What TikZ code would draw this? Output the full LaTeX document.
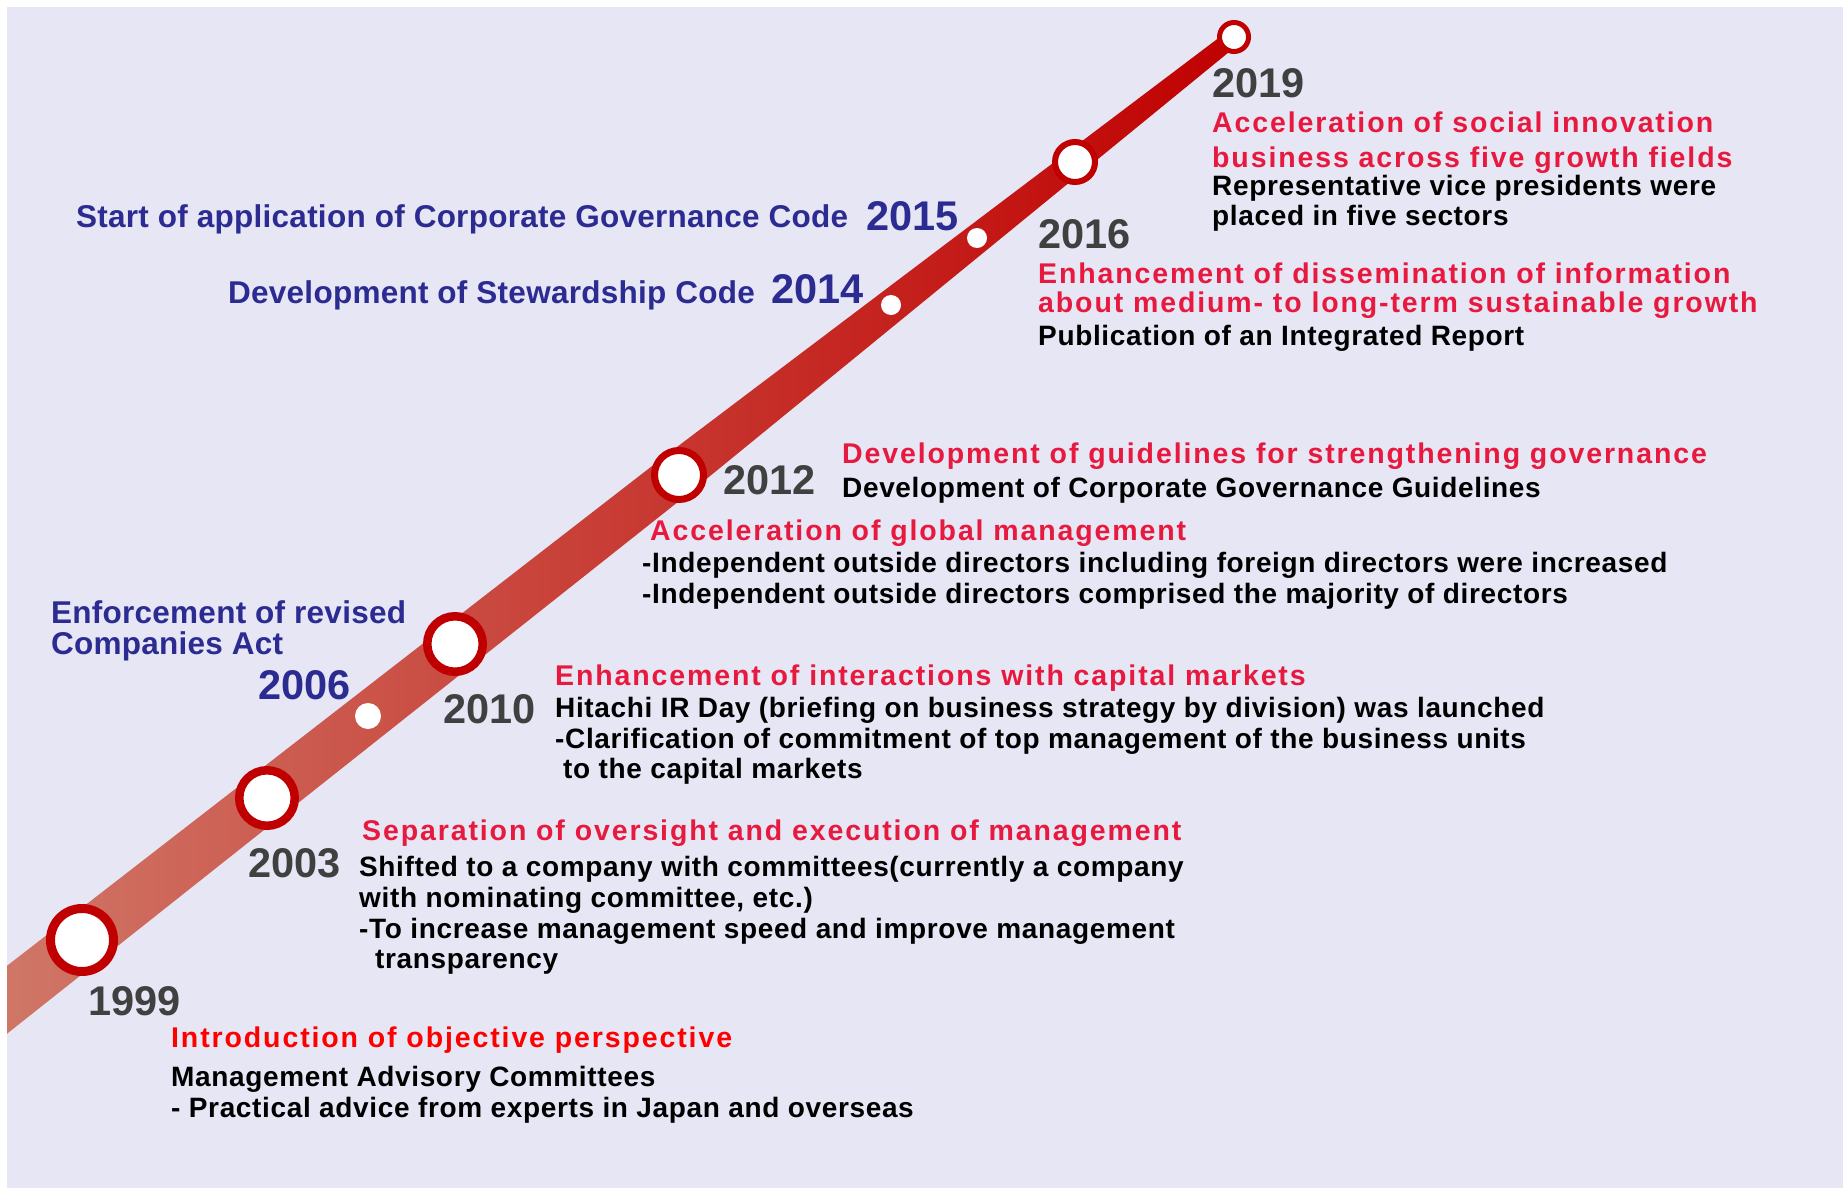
\documentclass[tikz,border=0pt]{standalone}
\usepackage{fontspec}
\setmainfont{Liberation Sans}
\newfontfamily\bodyfont[LetterSpace=2.3]{Liberation Sans}
\newfontfamily\headfont[LetterSpace=6.6]{Liberation Sans}
\newfontfamily\govfont[LetterSpace=0.8]{Liberation Sans}
\definecolor{bglav}{RGB}{230,230,245}
\definecolor{bandlight}{RGB}{208,124,108}
\definecolor{bandred}{RGB}{192,0,0}
\definecolor{ringred}{RGB}{192,0,0}
\definecolor{headred}{RGB}{232,25,62}
\definecolor{govblue}{RGB}{43,43,145}
\definecolor{yeargray}{RGB}{64,64,64}
\begin{document}
\begin{tikzpicture}[
    x=1pt, y=-1pt,
    txt/.style={anchor=base west, inner sep=0},
    head/.style={txt, text=headred, font=\headfont\bfseries\fontsize{28.5}{31}\selectfont},
    body/.style={txt, text=black, font=\bodyfont\bfseries\fontsize{28}{31}\selectfont},
    gov/.style={txt, text=govblue, font=\govfont\bfseries\fontsize{31.5}{34}\selectfont},
    year/.style={txt, text=yeargray, font=\bfseries\fontsize{41.5}{44}\selectfont},
    ring/.style={circle, draw=ringred, fill=white, inner sep=0},
    dot/.style={circle, fill=white, inner sep=0},
  ]
  \useasboundingbox (0,0) rectangle (1843,1188);
  \fill[bglav] (7,7) rectangle (1843,1188);
  % the tapered band
  \begin{scope}
    \clip (7,7) rectangle (1843,1188);
    \shade[left color=bandlight, right color=bandred]
      (-13.3,1049.8) -- (692.6,490.3) -- (1239.2,43.7) --
      (1228.8,30.3) -- (665.4,455.7) -- (-46.7,1007.4) -- cycle;
  \end{scope}
  % milestones
  \foreach \name/\x/\y/\r/\w in {m1999/82/940/36/9, m2003/267/798/32/8.5,
      m2010/455/644/32/8.5, m2012/679/475/28/7, m2016/1075/162/23/6, m2019/1234/37/17/5}
    \node[ring, line width=\w pt, minimum size=2*\r pt-\w pt] (\name) at (\x,\y) {};
  \foreach \name/\x/\y/\r in {d2006/368/716/13, d2014/891/305/10, d2015/977/238/10}
    \node[dot, minimum size=2*\r pt] (\name) at (\x,\y) {};
  % years
  \node[year] (y1999) at (88,1015) {1999};
  \node[year] (y2003) at (248,877) {2003};
  \node[year] (y2010) at (443,723) {2010};
  \node[year] (y2012) at (723,494) {2012};
  \node[year] (y2016) at (1038,248) {2016};
  \node[year] (y2019) at (1212,98) {2019};
  \node[year, text=govblue] (y2006) at (258,699) {2006};
  \node[year, text=govblue] (y2014) at (771,303) {2014};
  \node[year, text=govblue] (y2015) at (866,230) {2015};
  % outside events
  \node[gov] (g2006a) at (51,623) {Enforcement of revised};
  \node[gov] (g2006b) at (51,654) {Companies Act};
  \node[gov] (g2014) at (228,303) {Development of Stewardship Code};
  \node[gov] (g2015) at (76,227) {Start of application of Corporate Governance Code};
  % 1999
  \node[head, text=red] (h1999) at (171,1047) {Introduction of objective perspective};
  \node[body] (b1999a) at (171,1086) {Management Advisory Committees};
  \node[body] (b1999b) at (171,1117) {- Practical advice from experts in Japan and overseas};
  % 2003
  \node[head] (h2003) at (362,840) {Separation of oversight and execution of management};
  \node[body] (b2003a) at (359,876) {Shifted to a company with committees(currently a company};
  \node[body] (b2003b) at (359,907) {with nominating committee, etc.)};
  \node[body] (b2003c) at (359,938) {-To increase management speed and improve management};
  \node[body] (b2003d) at (375,968) {transparency};
  % 2010
  \node[head] (h2010) at (555,685) {Enhancement of interactions with capital markets};
  \node[body] (b2010a) at (555,717) {Hitachi IR Day (briefing on business strategy by division) was launched};
  \node[body] (b2010b) at (555,748) {-Clarification of commitment of top management of the business units};
  \node[body] (b2010c) at (563,778) {to the capital markets};
  % 2012
  \node[head] (h2012a) at (842,463) {Development of guidelines for strengthening governance};
  \node[body] (b2012a) at (842,497) {Development of Corporate Governance Guidelines};
  \node[head] (h2012b) at (650,540) {Acceleration of global management};
  \node[body] (b2012b) at (642,572) {-Independent outside directors including foreign directors were increased};
  \node[body] (b2012c) at (642,603) {-Independent outside directors comprised the majority of directors};
  % 2016
  \node[head] (h2016a) at (1038,283) {Enhancement of dissemination of information};
  \node[head] (h2016b) at (1038,312) {about medium- to long-term sustainable growth};
  \node[body] (b2016) at (1038,345) {Publication of an Integrated Report};
  % 2019
  \node[head] (h2019a) at (1212,132) {Acceleration of social innovation};
  \node[head] (h2019b) at (1212,167) {business across five growth fields};
  \node[body] (b2019a) at (1212,195) {Representative vice presidents were};
  \node[body] (b2019b) at (1212,225) {placed in five sectors};
\end{tikzpicture}
\end{document}
